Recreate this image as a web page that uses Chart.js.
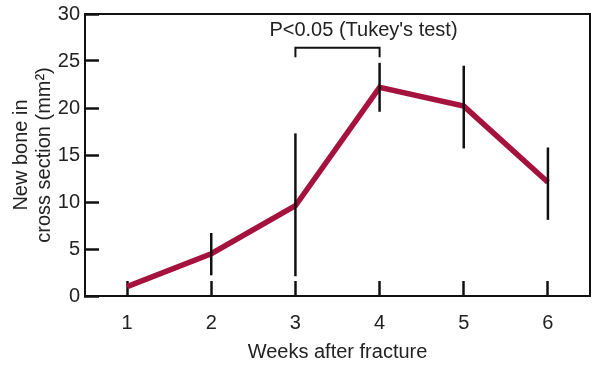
<!DOCTYPE html>
<html>
<head>
<meta charset="utf-8">
<script src="https://cdn.jsdelivr.net/npm/chart.js@4"></script>
<style>
  html, body { margin: 0; padding: 0; background: #fff; }
  #wrap { width: 595px; height: 367px; }
</style>
</head>
<body>
<div id="wrap"><canvas id="boneChart" width="595" height="367"></canvas></div>
<script>
// weeks after fracture
const weeks = ['1', '2', '3', '4', '5', '6'];
// mean new bone area (mm2)
const newBone = [1.0, 4.5, 9.6, 22.2, 20.2, 12.1];
// error bar ends (null = no bar)
const errLow = [null, 2.2, 2.1, 19.6, 15.7, 8.1];
const errHigh = [null, 6.7, 17.3, 24.8, 24.5, 15.8];
const yTicks = [0, 5, 10, 15, 20, 25, 30];

// significance bracket between week 3 and week 4
const bracketFrom = 2;
const bracketTo = 3;
const bracketTop = 26.4;
const bracketFoot = 25.4;
const bracketLabel = 'P<0.05 (Tukey\'s test)';

const FONT = 'Liberation Sans, Arial, Helvetica, sans-serif';
const RED = '#a5123e';

// error bars, frame and bracket
const extras = {
    id: 'extras',
    afterDatasetsDraw(chart) {
        const { ctx, chartArea } = chart;
        const xs = chart.scales.x;
        const ys = chart.scales.y;

        ctx.save();
        ctx.strokeStyle = '#111';
        ctx.lineWidth = 2.5;
        ctx.lineCap = 'butt';
        errLow.forEach((lo, i) => {
            if (lo === null) return;
            const x = xs.getPixelForValue(i);
            ctx.beginPath();
            ctx.moveTo(x, ys.getPixelForValue(lo));
            ctx.lineTo(x, ys.getPixelForValue(errHigh[i]));
            ctx.stroke();
        });

        // frame round the plot
        ctx.lineWidth = 2;
        ctx.strokeRect(chartArea.left, chartArea.top, chartArea.right - chartArea.left, chartArea.bottom - chartArea.top);

        // bracket
        const bx1 = xs.getPixelForValue(bracketFrom);
        const bx2 = xs.getPixelForValue(bracketTo);
        const by = ys.getPixelForValue(bracketTop);
        const bf = ys.getPixelForValue(bracketFoot);
        ctx.lineWidth = 2;
        ctx.beginPath();
        ctx.moveTo(bx1, bf);
        ctx.lineTo(bx1, by);
        ctx.lineTo(bx2, by);
        ctx.lineTo(bx2, bf);
        ctx.stroke();

        ctx.fillStyle = '#222';
        ctx.font = '20px ' + FONT;
        ctx.textAlign = 'center';
        ctx.textBaseline = 'middle';
        ctx.fillText(bracketLabel, (bx1 + bx2) / 2 + 26, ys.getPixelForValue(28.2));
        ctx.restore();
    }
};

new Chart(document.getElementById('boneChart'), {
    type: 'line',
    data: {
        labels: weeks,
        datasets: [{
            data: newBone,
            borderColor: RED,
            borderWidth: 5.5,
            pointRadius: 0,
            tension: 0,
            fill: false
        }]
    },
    options: {
        responsive: false,
        animation: false,
        layout: { padding: { top: 14, right: 5, left: 0, bottom: 0 } },
        plugins: { legend: { display: false }, tooltip: { enabled: false } },
        scales: {
            x: {
                type: 'category',
                offset: true,
                grid: {
                    offset: false,
                    drawOnChartArea: false,
                    drawTicks: true,
                    tickLength: -15,
                    tickWidth: 2.5,
                    tickColor: '#111'
                },
                border: { display: true, color: '#111', width: 2 },
                ticks: {
                    color: '#222',
                    padding: 30,
                    font: { family: FONT, size: 20 }
                },
                title: {
                    display: true,
                    text: 'Weeks after fracture',
                    color: '#222',
                    padding: { top: 0, bottom: 3 },
                    font: { family: FONT, size: 20 }
                },
                afterFit(scale) {
                    scale.height = 71;
                    scale.paddingLeft = 0;
                    scale.paddingRight = 0;
                }
            },
            y: {
                min: 0,
                max: 30,
                afterBuildTicks(scale) {
                    scale.ticks = yTicks.map(v => ({ value: v }));
                },
                grid: {
                    drawOnChartArea: false,
                    drawTicks: true,
                    tickLength: -14,
                    tickWidth: 2.5,
                    tickColor: '#111'
                },
                border: { display: true, color: '#111', width: 2 },
                ticks: {
                    color: '#222',
                    padding: 19,
                    font: { family: FONT, size: 20 }
                },
                title: {
                    display: true,
                    text: ['New bone in', 'cross section (mm²)'],
                    color: '#222',
                    padding: { top: 10, bottom: 0 },
                    font: { family: FONT, size: 20, lineHeight: 1.15 }
                },
                afterFit(scale) {
                    scale.width = 85;
                    scale.paddingTop = 0;
                    scale.paddingBottom = 0;
                }
            }
        }
    },
    plugins: [extras]
});
</script>
</body>
</html>
